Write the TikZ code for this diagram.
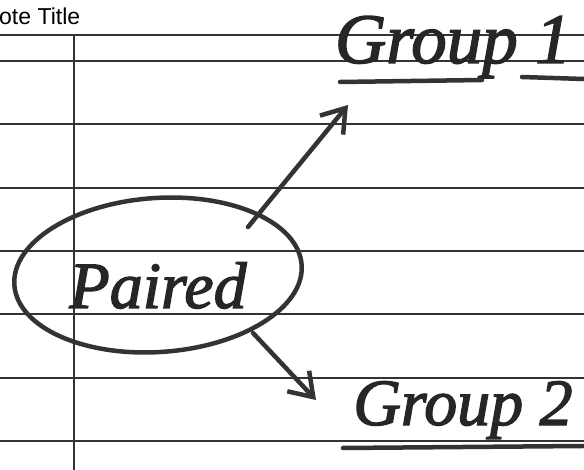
\documentclass[tikz,border=0pt]{standalone}
\usepackage{fontspec}
\setmainfont{Liberation Sans}
\newfontfamily\hand[ItalicFeatures={FakeBold=2}]{Liberation Serif}
\usetikzlibrary{arrows.meta,shapes.geometric}
\begin{document}
\begin{tikzpicture}[x=1pt,y=-1pt,
  rule/.style={line width=1.1pt, draw=black!80},
  ink/.style={line width=4.5pt, draw=black!80, line cap=round, line join=round},
  handtext/.style={font=\hand\itshape\fontsize{66}{70}\selectfont, text=black!85, inner sep=0pt},
  arr/.style={ink, -{Straight Barb[length=22pt,width=30pt]}}]
\useasboundingbox (0,0) rectangle (584,470);
\fill[white] (0,0) rectangle (584,470);
\foreach \y in {35,61,124,188,251,314,378,441} \draw[rule] (0,\y) -- (584,\y);
\draw[rule] (74,35) -- (74,470);
\node[anchor=base west, inner sep=0pt, font=\fontsize{23}{26}\selectfont] (title) at (-1,25) {ote Title};
\node[ellipse, ink, minimum width=288pt, minimum height=154pt, rotate=4, inner sep=0pt] (ring) at (158,275) {};
\node[handtext, anchor=base] (paired) at (158,308) {Paired};
\node[handtext, anchor=base, font=\hand\itshape\fontsize{71}{74}\selectfont] (g1) at (453,63) {Group 1};
\node[handtext, anchor=base] (g2) at (463,425) {Group 2};
\draw[ink] (340,82) -- (482,80);
\draw[ink] (522,77) -- (584,79);
\draw[ink] (343,448) -- (583,446);
\coordinate (s1) at (248,227);
\coordinate (t1) at (348,105);
\coordinate (s2) at (253,333);
\coordinate (t2) at (316,400);
\draw[arr] (s1) -- (t1);
\draw[arr] (s2) -- (t2);
\end{tikzpicture}
\end{document}
